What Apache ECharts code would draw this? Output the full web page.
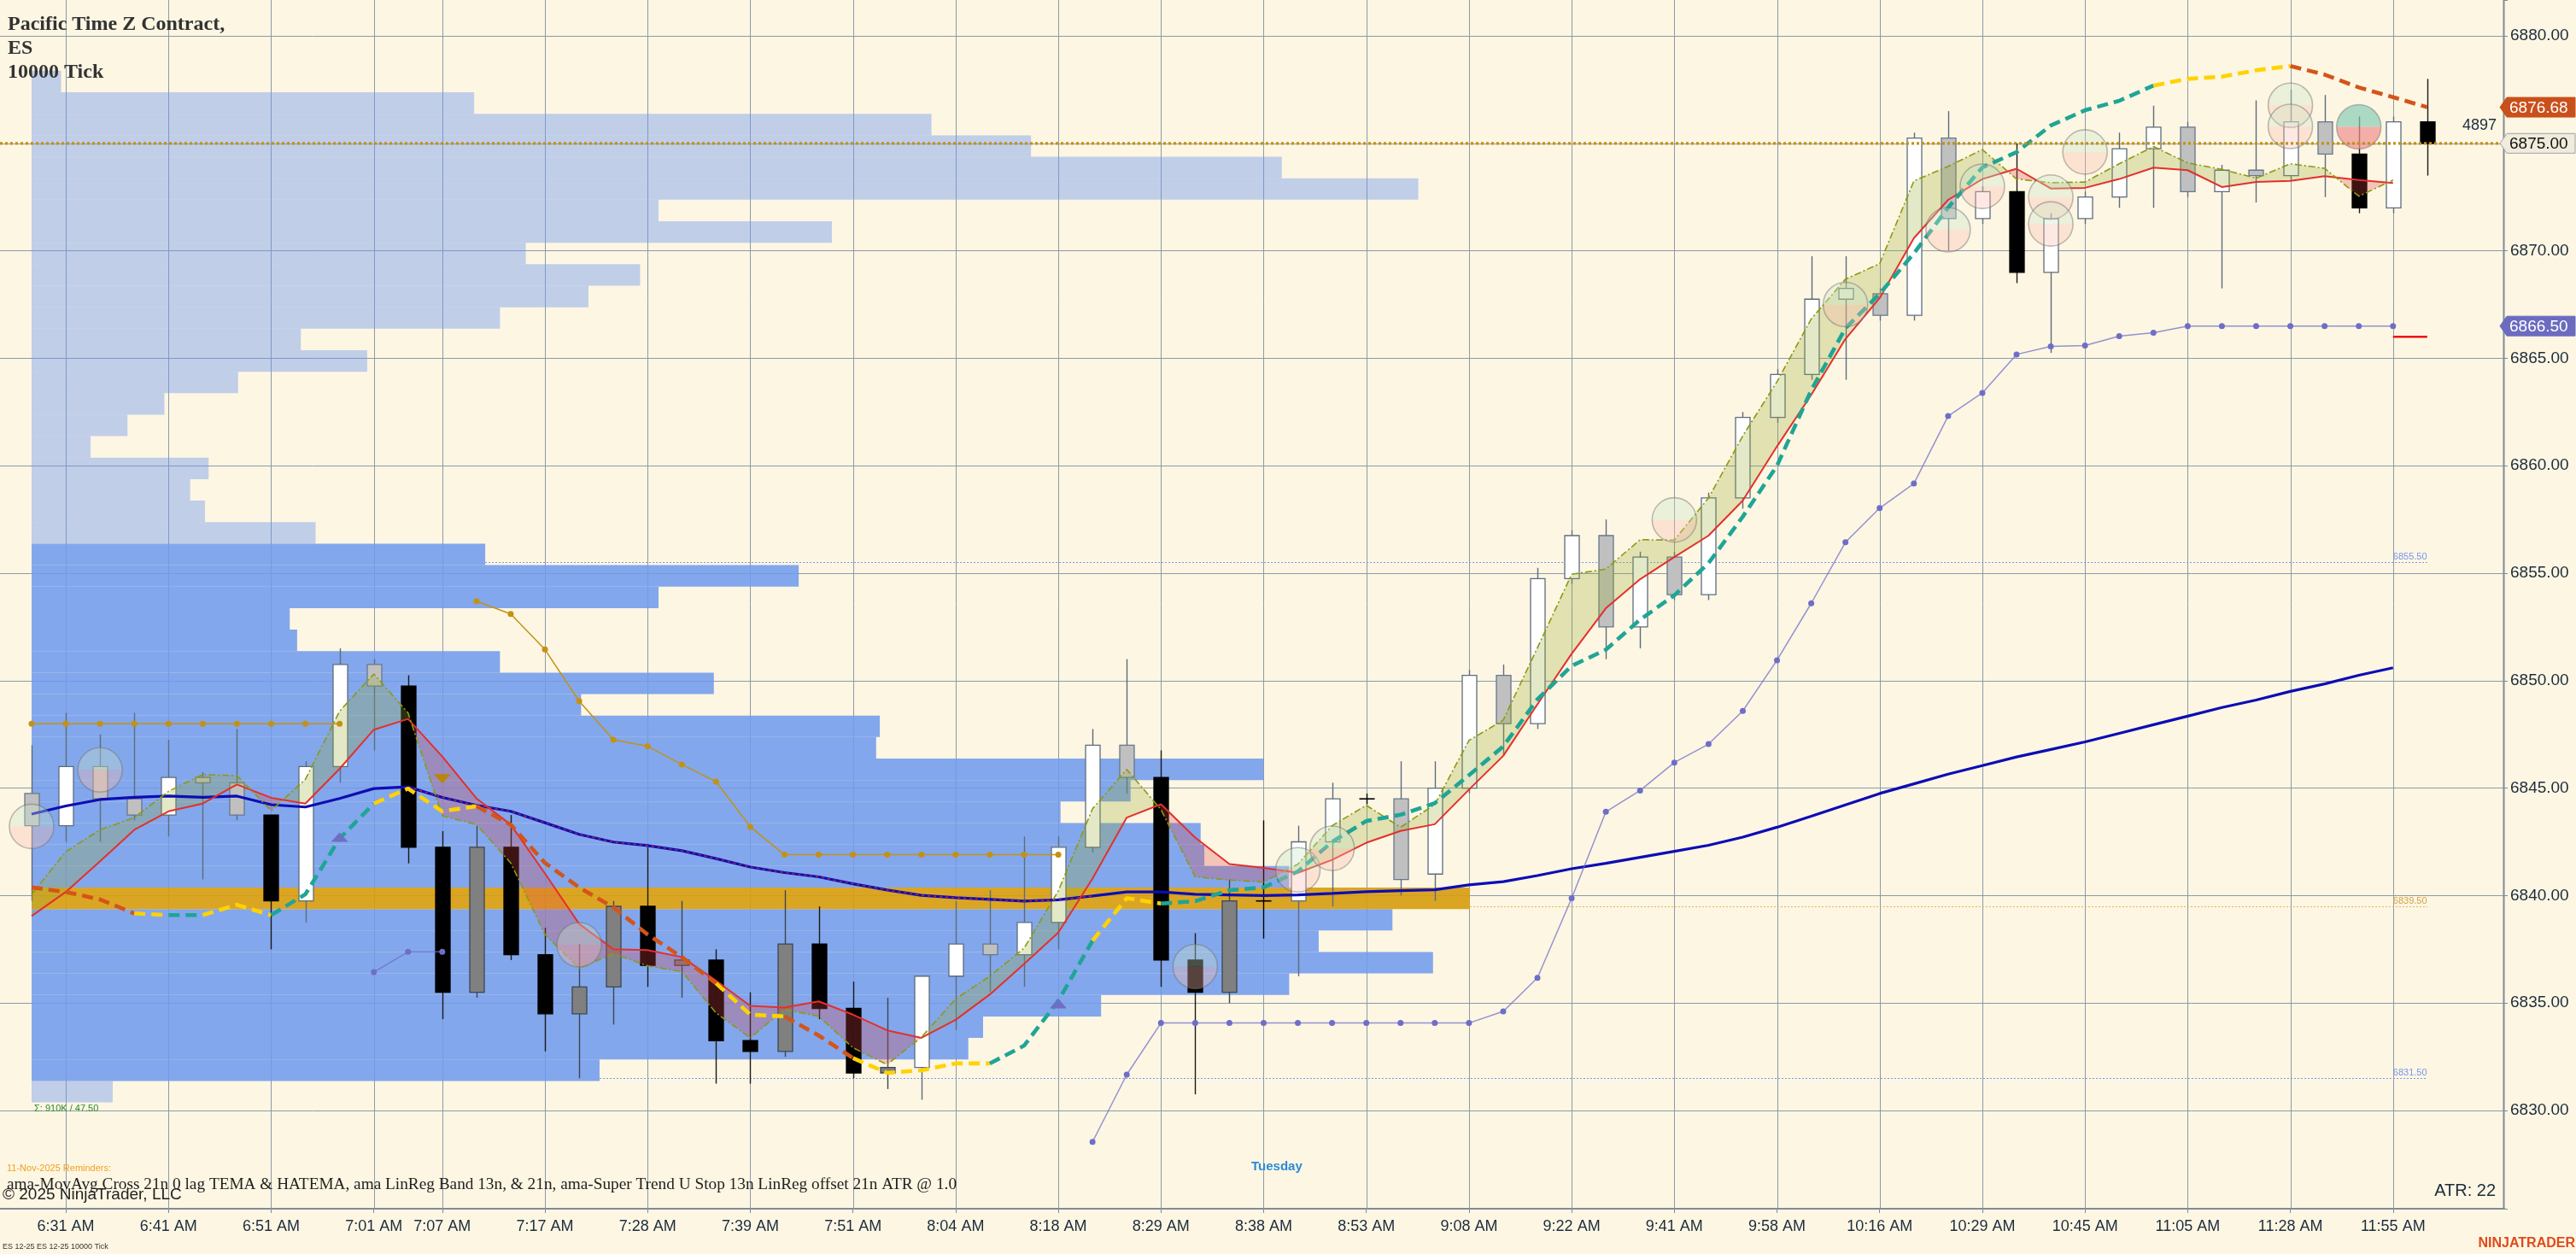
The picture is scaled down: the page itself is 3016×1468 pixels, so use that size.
<!DOCTYPE html>
<html>
<head>
<meta charset="utf-8">
<script src="https://cdn.jsdelivr.net/npm/echarts@6/dist/echarts.min.js"></script>
<style>
html,body{margin:0;padding:0;background:#fdf6e3;}
#c{width:3016px;height:1468px;}
</style>
</head>
<body>
<div id="c"></div>
<script>
// ---------------- DATA ----------------
const timeLabels = ['6:31 AM','6:41 AM','6:51 AM','7:01 AM','7:07 AM','7:17 AM','7:28 AM','7:39 AM','7:51 AM','8:04 AM','8:18 AM','8:29 AM','8:38 AM','8:53 AM','9:08 AM','9:22 AM','9:41 AM','9:58 AM','10:16 AM','10:29 AM','10:45 AM','11:05 AM','11:28 AM','11:55 AM'];
const labelBars = [1,4,7,10,12,15,18,21,24,27,30,33,36,39,42,45,48,51,54,57,60,63,66,69];

const opens  = [6844.75,6843.25,6846.0,6844.5,6843.75,6845.5,6845.25,6843.75,6839.75,6846.0,6850.75,6849.75,6842.25,6835.5,6842.25,6837.25,6834.5,6835.75,6839.5,6836.75,6837.0,6833.25,6832.75,6837.75,6834.75,6831.75,6832.0,6836.25,6837.75,6837.25,6838.75,6842.25,6847.0,6845.5,6837.0,6835.5,6839.75,6839.75,6842.5,6844.5,6844.5,6841.0,6845.0,6850.25,6848.0,6854.75,6856.75,6852.5,6855.75,6854.0,6858.5,6862.25,6864.25,6867.75,6868.0,6867.0,6875.25,6871.5,6872.75,6869.0,6871.5,6872.5,6874.75,6875.75,6872.75,6873.75,6873.5,6876.0,6874.5,6872.0,6876.0];
const highs  = [6847.0,6848.5,6847.5,6848.5,6847.25,6845.75,6847.75,6843.75,6846.25,6851.5,6851.0,6850.25,6843.0,6843.25,6843.75,6838.5,6837.75,6839.75,6842.25,6839.75,6837.5,6835.5,6840.25,6839.5,6836.0,6835.25,6836.25,6839.75,6840.25,6842.75,6842.75,6847.75,6851.0,6846.75,6838.25,6840.75,6843.5,6843.25,6845.25,6844.75,6846.25,6846.25,6850.5,6850.75,6855.25,6857.0,6857.5,6856.0,6856.0,6858.75,6862.5,6864.5,6869.75,6869.75,6868.25,6875.5,6876.5,6873.0,6875.0,6871.75,6872.75,6875.5,6876.75,6876.0,6874.0,6877.0,6877.5,6877.25,6876.25,6876.25,6878.0];
const lows   = [6839.75,6842.5,6842.5,6843.5,6842.75,6840.75,6843.5,6837.5,6838.75,6845.25,6846.75,6841.5,6834.25,6835.25,6837.0,6832.75,6831.5,6834.0,6835.75,6835.25,6831.25,6831.25,6832.5,6834.25,6831.5,6831.0,6830.5,6833.75,6835.5,6835.75,6837.5,6842.0,6844.75,6835.75,6830.75,6835.0,6838.0,6836.25,6839.5,6844.25,6840.0,6839.75,6844.75,6846.5,6847.75,6854.5,6851.0,6851.5,6853.75,6853.75,6858.0,6862.0,6864.0,6864.0,6866.75,6866.75,6870.0,6871.25,6868.5,6865.25,6871.25,6872.0,6872.0,6872.5,6868.25,6872.25,6873.25,6872.5,6871.75,6871.75,6873.5];
const closes = [6843.25,6846.0,6844.5,6843.75,6845.5,6845.25,6843.75,6839.75,6846.0,6850.75,6849.75,6842.25,6835.5,6842.25,6837.25,6834.5,6835.75,6839.5,6836.75,6837.0,6833.25,6832.75,6837.75,6834.75,6831.75,6832.0,6836.25,6837.75,6837.25,6838.75,6842.25,6847.0,6845.5,6837.0,6835.5,6839.75,6839.75,6842.5,6844.5,6844.5,6840.75,6845.0,6850.25,6848.0,6854.75,6856.75,6852.5,6855.75,6854.0,6858.5,6862.25,6864.25,6867.75,6868.25,6867.0,6875.25,6871.5,6872.75,6869.0,6871.5,6872.5,6874.75,6875.75,6872.75,6873.75,6873.5,6876.0,6874.5,6872.0,6876.0,6875.0];
// bar painting state: W up, B down, L down-in-uptrend, D up-in-downtrend, X doji
const barKind = ['L','W','L','L','W','L','L','B','W','W','L','B','B','D','B','B','D','D','B','D','B','B','D','B','B','D','W','W','L','W','W','W','L','B','B','D','X','W','W','X','L','W','W','L','W','W','L','W','L','W','W','W','W','W','L','W','L','W','B','W','W','W','W','L','W','L','W','L','B','W','B'];

// LinReg band (13n red, 21n olive)
const linReg13 = [6839.05,6840.17,6841.6,6843.06,6843.92,6844.28,6845.17,6844.55,6844.28,6845.9,6847.72,6848.22,6846.47,6844.52,6843.3,6841.03,6838.68,6837.5,6837.46,6837.14,6836.04,6834.87,6834.79,6835.08,6834.46,6833.73,6833.38,6834.22,6835.4,6836.82,6838.28,6840.79,6843.63,6844.25,6842.7,6841.47,6841.29,6841.06,6841.66,6842.46,6843.01,6843.32,6844.93,6846.5,6848.9,6851.25,6853.37,6854.72,6855.75,6856.75,6858.38,6860.9,6863.3,6865.9,6867.8,6870.59,6872.37,6873.34,6873.82,6872.9,6872.93,6873.34,6873.87,6873.75,6872.97,6873.2,6873.25,6873.47,6873.29,6873.15,null];
const linReg21 = [6840.06,6842.04,6843.06,6843.63,6844.85,6845.63,6845.58,6843.95,6845.41,6848.58,6850.31,6848.5,6843.71,6843.3,6841.52,6838.19,6836.62,6837.3,6836.73,6836.46,6834.54,6833.38,6834.71,6834.38,6832.92,6832.14,6833.41,6835.19,6836.25,6837.55,6840.22,6844.04,6845.87,6844.0,6840.87,6840.72,6840.63,6841.46,6843.25,6844.2,6843.18,6844.24,6847.22,6848.16,6851.53,6854.95,6855.19,6856.56,6856.54,6858.5,6861.39,6863.91,6866.83,6868.68,6869.4,6873.25,6873.93,6874.71,6873.34,6873.17,6873.2,6874.05,6874.85,6874.09,6873.79,6873.38,6874.05,6873.84,6872.54,6873.29,null];
// slow moving average
const slowAvg = [6843.79,6844.17,6844.47,6844.57,6844.63,6844.57,6844.63,6844.23,6844.12,6844.52,6844.98,6845.06,6844.57,6844.2,6843.92,6843.39,6842.85,6842.49,6842.33,6842.09,6841.72,6841.33,6841.07,6840.87,6840.55,6840.26,6840.01,6839.9,6839.82,6839.74,6839.8,6839.98,6840.17,6840.17,6840.06,6840.03,6840.0,6840.03,6840.1,6840.18,6840.23,6840.27,6840.5,6840.65,6840.93,6841.25,6841.5,6841.78,6842.06,6842.34,6842.72,6843.18,6843.69,6844.22,6844.75,6845.2,6845.65,6846.05,6846.45,6846.8,6847.15,6847.55,6847.95,6848.35,6848.75,6849.1,6849.5,6849.85,6850.25,6850.6,null];
// stop lines
const downStop = [6848.0,6848.0,6848.0,6848.0,6848.0,6848.0,6848.0,6848.0,6848.0,6848.0,null,null,null,6853.7,6853.1,6851.45,6849.05,6847.25,6846.95,6846.1,6845.3,6843.2,6841.9,6841.9,6841.9,6841.9,6841.9,6841.9,6841.9,6841.9,6841.9,null,null,null,null,null,null,null,null,null,null,null,null,null,null,null,null,null,null,null,null,null,null,null,null,null,null,null,null,null,null,null,null,null,null,null,null,null,null,null,null];
const upStop = [null,null,null,null,null,null,null,null,null,null,6836.44,6837.38,6837.38,null,null,null,null,null,null,null,null,null,null,null,null,null,null,null,null,null,null,6828.54,6831.67,6834.07,6834.07,6834.07,6834.07,6834.07,6834.07,6834.07,6834.07,6834.07,6834.07,6834.61,6836.17,6839.88,6843.9,6844.89,6846.19,6847.05,6848.59,6850.95,6853.6,6856.44,6858.03,6859.17,6862.31,6863.39,6865.18,6865.55,6865.59,6866.03,6866.19,6866.5,6866.5,6866.5,6866.5,6866.5,6866.5,6866.5,null];
const nextStop = {fromBar: 69, toBar: 70, price: 6866.0};
// MovAvg cross line (TEMA/HATEMA) and its state runs [fromBar, toBar, state]
const crossLine = [6840.38,6840.17,6839.82,6839.17,6839.09,6839.09,6839.57,6839.09,6840.06,6842.66,6844.28,6844.98,6843.92,6844.16,6843.3,6841.52,6840.38,6839.45,6838.19,6837.14,6835.92,6834.46,6834.38,6833.49,6832.44,6831.75,6831.87,6832.19,6832.19,6833.02,6835.1,6837.9,6839.88,6839.63,6839.74,6840.25,6840.38,6841.12,6842.5,6843.47,6843.76,6844.3,6845.6,6846.94,6849.13,6850.69,6851.44,6852.84,6853.97,6855.47,6857.63,6860.0,6863.51,6866.4,6868.0,6869.88,6872.01,6873.88,6874.59,6875.83,6876.54,6876.98,6877.69,6878.0,6878.1,6878.4,6878.6,6878.2,6877.6,6877.15,6876.68];
const crossRuns = [[0,3,'dn'],[3,4,'flat'],[4,5,'up'],[5,7,'flat'],[7,10,'up'],[10,13,'flat'],[13,20,'dn'],[20,22,'flat'],[22,24,'dn'],[24,28,'flat'],[28,31,'up'],[31,33,'flat'],[33,62,'up'],[62,66,'flat'],[66,70,'dn']];

// signal circles and arrows
const circleBars   = [0,2,16,34,37,38,48,53,56,57,59,59,60,66,66,68];
const circlePrices = [6843.22,6845.85,6837.71,6836.7,6841.2,6842.2,6857.48,6867.5,6870.98,6873.0,6872.5,6871.25,6874.6,6876.77,6875.79,6875.77];
const circleStrong = [0,0,0,0,0,0,0,0,0,0,0,0,0,0,0,1];
const upArrowBars = [9,30];
const upArrowPrices = [6842.7,6834.95];
const downArrowBars = [12];
const downArrowPrices = [6845.45];

// volume profile (rows 1 point tall, by row low price), volume in K
const profileRowLow0 = 6830.375;
const profileVolK = [2.2,15.4,25.4,25.8,29.0,34.1,38.0,34.9,36.9,39.0,34.1,31.8,31.7,27.9,29.8,33.4,22.9,23.0,14.9,18.5,12.7,7.2,7.0,17.0,20.8,12.3,7.7,4.7,4.3,4.8,1.6,2.6,3.6,5.6,9.1,7.3,12.7,15.1,16.5,13.4,21.7,17.0,37.6,33.9,27.1,24.4,12.0,0.8];
const levelPrices = [6855.5, 6839.5, 6831.5];   // VAH, POC, VAL
const levelKinds  = ['va', 'poc', 'va'];
const lastPrice = 6875.00;
const tagPrices = [6876.68, 6875.00, 6866.50];
const tagKinds  = ['cross', 'last', 'stop'];

// ---------------- LAYOUT CONSTANTS ----------------
const W = 3016, H = 1468;
const GRID = {left: 0, right: 84, top: 0, bottom: 53};
const BAR_BASE = 1;                 // bars are numbered from 1 on the x axis
const xb = i => i + BAR_BASE;
const X_MIN = xb(-0.923), X_MAX = xb(72.25);
const Y_MIN = 6825.43, Y_MAX = 6881.67;
const PROFILE_BARS_PER_K = 1.0776;
const N = opens.length;
const GRIDCOLOR = '#8d9aa6';
const AXISCOLOR = '#7f8c96';
const TXT = '#1c2c3c';

// ---------------- HELPERS ----------------
const pairs = arr => arr.map((v, i) => [xb(i), v == null ? '-' : v]);

const CANDLE = {
  W: {fill: '#ffffff', stroke: '#5d6d7d', wick: '#5d6d7d'},
  B: {fill: '#000000', stroke: '#000000', wick: '#1a1a1a'},
  L: {fill: '#c0c0c0', stroke: '#66778a', wick: '#5d6d7d'},
  D: {fill: '#808080', stroke: '#3c4652', wick: '#3c4652'},
  X: {fill: '#000000', stroke: '#000000', wick: '#000000'}
};
const CROSS_COLORS = {up: '#1fa595', flat: '#ffd200', dn: '#d4541a'};

// ---------------- SERIES ----------------
const series = [];

// vertical grid lines at labelled bars
series.push({
  type: 'custom', name: 'vgrid', z: 1, silent: true,
  data: labelBars.map(b => [xb(b), Y_MIN]),
  renderItem: (params, api) => {
    const x = Math.round(api.coord([api.value(0), Y_MIN])[0]) + 0.5;
    const cs = params.coordSys;
    return {type: 'line', shape: {x1: x, y1: cs.y, x2: x, y2: cs.y + cs.height},
            style: {stroke: GRIDCOLOR, lineWidth: 1}};
  }
});

// volume profile (starts at the first bar)
series.push({
  type: 'custom', name: 'profile', z: 2, silent: true,
  data: profileVolK.map((v, k) => [xb(v * PROFILE_BARS_PER_K), profileRowLow0 + k]),
  renderItem: (params, api) => {
    const k = params.dataIndex;
    const low = profileRowLow0 + k, high = low + 1;
    const p0 = api.coord([xb(0), high]);
    const p1 = api.coord([api.value(0), low]);
    const vaHigh = levelPrices[0], poc = levelPrices[1], vaLow = levelPrices[2];
    let fill = 'rgba(111,154,238,0.43)';
    if (low <= vaHigh && high > vaLow) fill = 'rgba(111,154,238,0.86)';
    if (low <= poc && high > poc) fill = 'rgba(216,157,19,0.92)';
    const x0 = Math.round(p0[0]);
    return {type: 'rect', shape: {x: x0, y: p0[1], width: p1[0] - x0, height: p1[1] - p0[1]},
            style: {fill: fill}};
  }
});

// value-area / POC level lines with their labels
series.push({
  type: 'custom', name: 'levels', z: 3, silent: true,
  data: levelPrices.map(p => [xb(N - 1), p]),
  renderItem: (params, api) => {
    const i = params.dataIndex;
    const p = levelPrices[i];
    const k = Math.floor(p - profileRowLow0);
    const startBar = profileVolK[k] * PROFILE_BARS_PER_K;
    const a = api.coord([xb(startBar), p]), b = api.coord([xb(N - 1), p]);
    const lab = api.coord([xb(N - 2), p]);
    const col = levelKinds[i] === 'poc' ? '#dbb55e' : '#7896ee';
    const tcol = levelKinds[i] === 'poc' ? '#d2a443' : '#7896ee';
    const y = Math.round(a[1]) + 0.5;
    return {type: 'group', children: [
      {type: 'line', shape: {x1: a[0], y1: y, x2: b[0], y2: y}, style: {stroke: col, lineWidth: 1.2, lineDash: [2, 2]}},
      {type: 'text', style: {text: p.toFixed(2), x: lab[0], y: y - 1, align: 'left', verticalAlign: 'bottom',
        fill: tcol, font: '11px "Liberation Sans", Arial'}}
    ]};
  }
});

// candles
series.push({
  type: 'custom', name: 'candles', z: 4, silent: true,
  data: opens.map((o, i) => [xb(i), o, closes[i], lows[i], highs[i]]),
  renderItem: (params, api) => {
    const xv = api.value(0);
    const kind = barKind[params.dataIndex];
    const st = CANDLE[kind];
    const o = api.coord([xv, api.value(1)]), c = api.coord([xv, api.value(2)]);
    const l = api.coord([xv, api.value(3)]), h = api.coord([xv, api.value(4)]);
    const x = Math.round(o[0]);
    const bw = 17;
    const top = Math.min(o[1], c[1]), bot = Math.max(o[1], c[1]);
    const children = [
      {type: 'line', shape: {x1: x + 0.5, y1: h[1], x2: x + 0.5, y2: l[1]}, style: {stroke: st.wick, lineWidth: 1.4}}
    ];
    if (kind === 'X') {
      children.push({type: 'line', shape: {x1: x - bw / 2, y1: o[1], x2: x + bw / 2 + 1, y2: o[1]}, style: {stroke: '#000', lineWidth: 1.6}});
    } else {
      children.push({type: 'rect', shape: {x: x - bw / 2 + 0.5, y: top, width: bw, height: Math.max(bot - top, 2)},
        style: {fill: st.fill, stroke: st.stroke, lineWidth: 1.3}});
    }
    return {type: 'group', children};
  }
});

// LinReg band fill
series.push({
  type: 'custom', name: 'bandFill', z: 5, silent: true,
  data: linReg13.slice(0, -2).map((v, i) => [xb(i), v]),
  renderItem: (params, api) => {
    const i = params.dataIndex;
    if (linReg13[i + 1] == null || linReg21[i + 1] == null) return null;
    const r0 = linReg13[i], r1 = linReg13[i + 1], o0 = linReg21[i], o1 = linReg21[i + 1];
    const d0 = o0 - r0, d1 = o1 - r1;
    const GREEN = 'rgba(150,170,48,0.27)', PINK = 'rgba(222,70,70,0.28)';
    const P = (x, y) => api.coord([xb(x), y]);
    if (d0 * d1 >= 0) {
      return {type: 'polygon', shape: {points: [P(i, o0), P(i + 1, o1), P(i + 1, r1), P(i, r0)]},
              style: {fill: (d0 + d1) >= 0 ? GREEN : PINK}};
    }
    const t = d0 / (d0 - d1);
    const xc = i + t, yc = r0 + t * (r1 - r0);
    return {type: 'group', children: [
      {type: 'polygon', shape: {points: [P(i, o0), P(xc, yc), P(i, r0)]}, style: {fill: d0 >= 0 ? GREEN : PINK}},
      {type: 'polygon', shape: {points: [P(xc, yc), P(i + 1, o1), P(i + 1, r1)]}, style: {fill: d1 >= 0 ? GREEN : PINK}}
    ]};
  }
});

// slow average (navy)
series.push({type: 'line', name: 'slowAvg', z: 6, silent: true, symbol: 'none', data: pairs(slowAvg),
  lineStyle: {color: '#0d0db4', width: 3.2}});
series.push({type: 'line', name: 'slowAvgFalling', z: 6, silent: true, symbol: 'none',
  data: slowAvg.map((v, i) => [xb(i), (i >= 11 && i <= 31) ? v : '-']),
  lineStyle: {color: '#d22a2a', width: 1.2, type: [3, 4]}});

// stops
series.push({type: 'line', name: 'downStop', z: 6, silent: true, data: pairs(downStop),
  symbol: 'circle', symbolSize: 7, itemStyle: {color: '#c39214'}, lineStyle: {color: '#c39214', width: 1.5}});
series.push({type: 'line', name: 'upStop', z: 6, silent: true, data: pairs(upStop),
  symbol: 'circle', symbolSize: 7, itemStyle: {color: '#6e6ec8'}, lineStyle: {color: 'rgba(112,112,200,0.75)', width: 1.5}});
series.push({type: 'line', name: 'nextStop', z: 6, silent: true, symbol: 'none',
  data: [[xb(nextStop.fromBar), nextStop.price], [xb(nextStop.toBar), nextStop.price]],
  lineStyle: {color: '#ee1010', width: 2.5}});

// LinReg lines
series.push({type: 'line', name: 'linReg13', z: 7, silent: true, symbol: 'none', data: pairs(linReg13),
  lineStyle: {color: '#e3302c', width: 2}});
series.push({type: 'line', name: 'linReg21', z: 7, silent: true, symbol: 'none', data: pairs(linReg21),
  lineStyle: {color: '#8c9a10', width: 1.6, type: [8, 3, 2, 3]}});

// MovAvg cross line, coloured by state runs
crossRuns.forEach(([s, e, st]) => {
  series.push({type: 'line', name: 'cross_' + s, z: 8, silent: true, symbol: 'none',
    data: crossLine.slice(s, e + 1).map((v, j) => [xb(s + j), v]),
    lineStyle: {color: CROSS_COLORS[st], width: 4.6, type: [13, 7]}});
});

// last price dotted line
series.push({type: 'line', name: 'lastPrice', z: 9, silent: true, symbol: 'none',
  data: [[X_MIN, lastPrice], [X_MAX, lastPrice]],
  lineStyle: {color: '#c39214', width: 3.2, type: [3, 3]}});

// signal circles
series.push({
  type: 'custom', name: 'circles', z: 9, silent: true,
  data: circleBars.map((b, i) => [xb(b), circlePrices[i]]),
  renderItem: (params, api) => {
    const p = api.coord([api.value(0), api.value(1)]);
    const strong = circleStrong[params.dataIndex] === 1;
    const r = 26;
    const top = strong ? 'rgba(140,205,185,0.72)' : 'rgba(200,230,200,0.35)';
    const bot = strong ? 'rgba(240,145,145,0.72)' : 'rgba(250,190,175,0.35)';
    return {type: 'group', children: [
      {type: 'sector', shape: {cx: p[0], cy: p[1], r0: 0, r: r, startAngle: Math.PI, endAngle: 2 * Math.PI, clockwise: true}, style: {fill: top}},
      {type: 'sector', shape: {cx: p[0], cy: p[1], r0: 0, r: r, startAngle: 0, endAngle: Math.PI, clockwise: true}, style: {fill: bot}},
      {type: 'circle', shape: {cx: p[0], cy: p[1], r: r}, style: {fill: 'none', stroke: 'rgba(110,110,110,0.45)', lineWidth: 1.6}}
    ]};
  }
});

// arrows
series.push({
  type: 'custom', name: 'upArrows', z: 9, silent: true,
  data: upArrowBars.map((b, i) => [xb(b), upArrowPrices[i]]),
  renderItem: (params, api) => {
    const p = api.coord([api.value(0), api.value(1)]);
    return {type: 'polygon', shape: {points: [[p[0] - 10, p[1] + 5], [p[0] + 10, p[1] + 5], [p[0], p[1] - 6]]}, style: {fill: '#6e6ec4'}};
  }
});
series.push({
  type: 'custom', name: 'downArrows', z: 9, silent: true,
  data: downArrowBars.map((b, i) => [xb(b), downArrowPrices[i]]),
  renderItem: (params, api) => {
    const p = api.coord([api.value(0), api.value(1)]);
    return {type: 'polygon', shape: {points: [[p[0] - 10, p[1] - 5], [p[0] + 10, p[1] - 5], [p[0], p[1] + 6]]}, style: {fill: '#b8860b'}};
  }
});

// right price-scale border line
series.push({
  type: 'custom', name: 'scaleBorder', z: 9, silent: true, clip: false,
  data: [[X_MAX, Y_MIN]],
  renderItem: (params, api) => {
    const cs = params.coordSys;
    const x = Math.round(cs.x + cs.width) - 0.5;
    return {type: 'line', shape: {x1: x, y1: cs.y, x2: x, y2: cs.y + cs.height + 1}, style: {stroke: AXISCOLOR, lineWidth: 2}};
  }
});

// price tags on the axis
const TAG_STYLE = {
  cross: {fill: '#c9501b', stroke: '#c9501b', text: '#ffffff'},
  last:  {fill: '#f1ebdb', stroke: '#9aa4ae', text: '#111111'},
  stop:  {fill: '#6b6bc0', stroke: '#6b6bc0', text: '#ffffff'}
};
series.push({
  type: 'custom', name: 'tags', z: 10, silent: true, clip: false,
  data: tagPrices.map(p => [X_MAX, p]),
  renderItem: (params, api) => {
    const st = TAG_STYLE[tagKinds[params.dataIndex]];
    const y = api.coord([X_MAX, api.value(1)])[1];
    const cs = params.coordSys;
    const x0 = cs.x + cs.width - 5;
    const h = 23;
    return {type: 'group', children: [
      {type: 'polygon', shape: {points: [[x0, y], [x0 + 8, y - h / 2], [W - 1, y - h / 2], [W - 1, y + h / 2], [x0 + 8, y + h / 2]]},
       style: {fill: st.fill, stroke: st.stroke, lineWidth: 1}},
      {type: 'text', style: {text: api.value(1).toFixed(2), x: x0 + 11, y: y + 1, align: 'left', verticalAlign: 'middle',
        fill: st.text, font: '19px "Liberation Sans", Arial'}}
    ]};
  }
});

// ---------------- OPTION ----------------
const serifFont = '"Liberation Serif", "DejaVu Serif", serif';
const sansFont = '"Liberation Sans", Arial, sans-serif';
const labelValues = labelBars.map(xb);

const option = {
  backgroundColor: '#fdf6e3',
  animation: false,
  grid: {left: GRID.left, right: GRID.right, top: GRID.top, bottom: GRID.bottom, containLabel: false},
  xAxis: {
    type: 'value', min: X_MIN, max: X_MAX,
    axisLine: {show: true, onZero: false, lineStyle: {color: AXISCOLOR, width: 2}},
    axisTick: {show: true, customValues: labelValues, length: 5, lineStyle: {color: AXISCOLOR, width: 1}},
    axisLabel: {
      customValues: labelValues, margin: 12, fontSize: 18, color: TXT, fontFamily: sansFont,
      formatter: v => { const k = labelValues.indexOf(Math.round(v)); return k >= 0 ? timeLabels[k] : ''; }
    },
    splitLine: {show: false}
  },
  yAxis: {
    type: 'value', position: 'right', min: Y_MIN, max: Y_MAX, minInterval: 5, maxInterval: 5, splitNumber: 11,
    axisLine: {show: false, onZero: false},
    axisTick: {show: true, length: 4, lineStyle: {color: AXISCOLOR}},
    axisLabel: {
      margin: 7, fontSize: 19, color: TXT, fontFamily: sansFont,
      formatter: v => (Math.abs(v / 5 - Math.round(v / 5)) < 1e-6 ? v.toFixed(2) : '')
    },
    splitLine: {show: true, showMinLine: false, showMaxLine: false, lineStyle: {color: GRIDCOLOR, width: 1}}
  },
  series: series,
  graphic: [
    {type: 'text', left: 9, top: 17, z: 20, style: {text: 'Pacific Time Z Contract,', font: 'bold 24px ' + serifFont, fill: '#333333'}},
    {type: 'text', left: 9, top: 45, z: 20, style: {text: 'ES', font: 'bold 24px ' + serifFont, fill: '#333333'}},
    {type: 'text', left: 9, top: 73, z: 20, style: {text: '10000 Tick', font: 'bold 24px ' + serifFont, fill: '#333333'}},
    {type: 'text', left: 40, top: 1292, z: 20, style: {text: 'Σ: 910K / 47.50', font: '11px ' + sansFont, fill: '#2b8a2b'}},
    {type: 'text', left: 8, top: 1362, z: 20, style: {text: '11-Nov-2025 Reminders:', font: '11px ' + sansFont, fill: '#f0a020'}},
    {type: 'text', left: 8, top: 1377, z: 20, style: {text: 'ama-MovAvg Cross 21n 0 lag TEMA & HATEMA, ama LinReg Band 13n, & 21n, ama-Super Trend U Stop 13n LinReg offset 21n ATR @ 1.0', font: '19.3px ' + serifFont, fill: '#222222'}},
    {type: 'text', left: 3, top: 1389, z: 20, style: {text: '© 2025 NinjaTrader, LLC', font: '19px ' + sansFont, fill: '#222222'}},
    {type: 'text', left: 3, top: 1455, z: 20, style: {text: 'ES 12-25 ES 12-25 10000 Tick', font: '9px ' + sansFont, fill: '#333333'}},
    {type: 'text', left: 1465, top: 1358, z: 20, style: {text: 'Tuesday', font: 'bold 15px ' + sansFont, fill: '#2b8ad8'}},
    {type: 'text', right: 94, top: 1384, z: 20, style: {text: 'ATR: 22', font: '20px ' + sansFont, fill: TXT}},
    {type: 'text', right: 93, top: 138, z: 20, style: {text: '4897', font: '18px ' + sansFont, fill: TXT}},
    {type: 'text', right: 1, top: 1448, z: 20, style: {text: 'NINJATRADER', font: 'bold 16px ' + sansFont, fill: '#e04a1a'}}
  ]
};

const chart = echarts.init(document.getElementById('c'), null, {width: W, height: H});
chart.setOption(option);
</script>
</body>
</html>
